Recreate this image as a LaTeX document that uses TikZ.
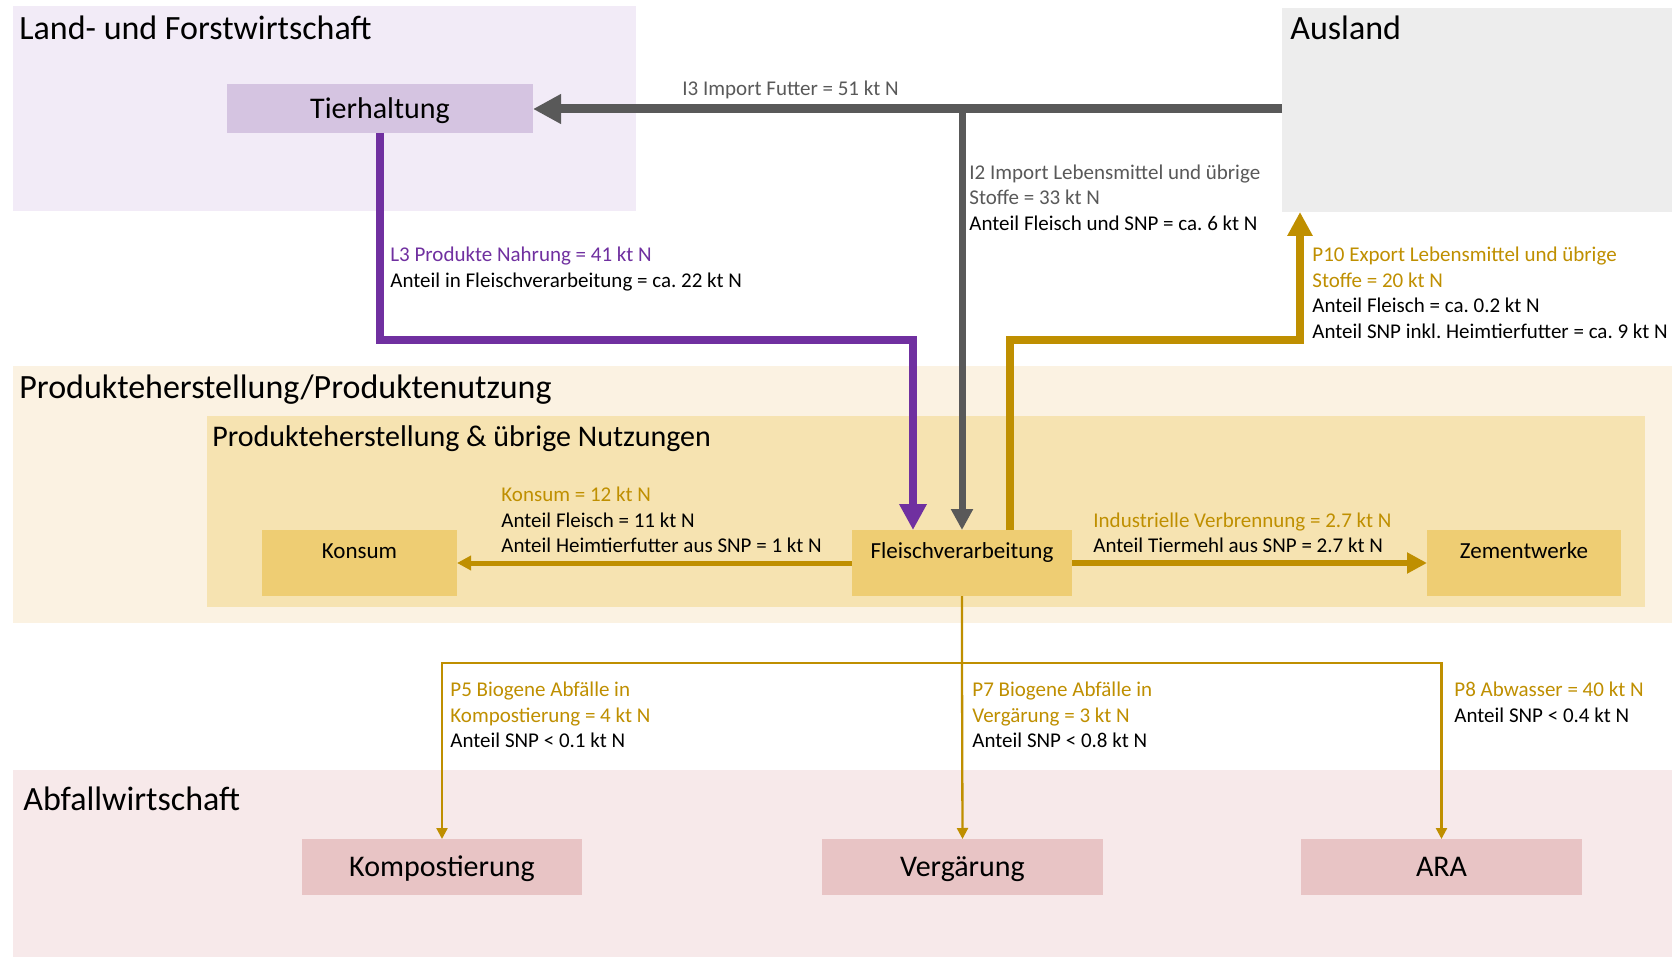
\documentclass[tikz,border=0pt]{standalone}
\usepackage{fontspec}
\setmainfont{Carlito}
\usetikzlibrary{arrows.meta}
\frenchspacing
\definecolor{lfbg}{RGB}{242,235,247}
\definecolor{ausbg}{RGB}{237,237,237}
\definecolor{ppbg}{RGB}{251,242,226}
\definecolor{pibg}{RGB}{246,227,177}
\definecolor{awbg}{RGB}{247,233,234}
\definecolor{tierbg}{RGB}{213,196,225}
\definecolor{gelbbox}{RGB}{238,205,115}
\definecolor{rosabox}{RGB}{232,196,197}
\definecolor{grau}{RGB}{89,89,89}
\definecolor{lila}{RGB}{112,48,160}
\definecolor{gold}{RGB}{191,143,0}
\begin{document}
\begin{tikzpicture}[x=0.5pt,y=-0.5pt,
 region/.style={anchor=north west, inner sep=0pt, outer sep=0pt, draw=none},
 titletext/.style={anchor=base west, inner sep=0pt, font=\fontsize{17}{20}\selectfont},
 subtitletext/.style={anchor=base west, inner sep=0pt, font=\fontsize{15}{18}\selectfont},
 lbl/.style={anchor=base west, inner sep=0pt, font=\fontsize{10.5}{12.8}\selectfont},
 bigbox/.style={inner sep=0pt, outer sep=0pt, font=\fontsize{15}{18}\selectfont, text height=9.66pt, text depth=0pt},
 midbox/.style={inner sep=0pt, outer sep=0pt, fill=gelbbox, font=\fontsize{11.5}{14}\selectfont, text height=7.4pt, text depth=12pt, minimum height=33pt},
 wastebox/.style={bigbox, fill=rosabox, minimum height=28pt, minimum width=140.5pt},
 flowgrayA/.style={draw=grau, line width=4.5pt, -{Triangle[length=14pt,width=14pt]}},
 flowgrayB/.style={draw=grau, line width=3.5pt, -{Triangle[length=10.5pt,width=10.5pt]}},
 flowlila/.style={draw=lila, line width=4pt, -{Triangle[length=13pt,width=13pt]}},
 flowgoldA/.style={draw=gold, line width=4pt, -{Triangle[length=12pt,width=12pt]}},
 flowgoldK/.style={draw=gold, line width=2.5pt, -{Triangle[length=7pt,width=7pt]}},
 flowgoldZ/.style={draw=gold, line width=3pt, -{Triangle[length=10pt,width=10pt]}},
 flowthin/.style={draw=gold, line width=1.15pt, -{Triangle[length=5.5pt,width=5.5pt]}},
]
\useasboundingbox (0,0) rectangle (1672,957);
\fill[white] (0,0) rectangle (1672,957);
% regions
\node[region, fill=lfbg, minimum width=311.5pt, minimum height=102.5pt] (lf) at (13,6) {};
\node[region, fill=ausbg, minimum width=195pt, minimum height=102pt] (aus) at (1282,8) {};
\node[region, fill=ppbg, minimum width=829.5pt, minimum height=128.5pt] (pp) at (13,366) {};
\node[region, fill=pibg, minimum width=719pt, minimum height=95.5pt] (pi) at (207,416) {};
\node[region, fill=awbg, minimum width=829.5pt, minimum height=93.5pt] (aw) at (13,770) {};
% region titles
\node[titletext] (tlf) at (19,39.5) {Land- und Forstwirtschaft};
\node[titletext] (taus) at (1290,40) {Ausland};
\node[titletext] (tpp) at (19,399) {Produkteherstellung/Produktenutzung};
\node[subtitletext] (tpi) at (212,446) {Produkteherstellung \& übrige Nutzungen};
\node[titletext] (taw) at (23,810) {Abfallwirtschaft};
% boxes
\node[bigbox, fill=tierbg, minimum width=153pt, minimum height=24.5pt] (tier) at (380,108.5) {Tierhaltung};
\node[midbox, minimum width=97.5pt] (kons) at (359.5,563) {Konsum};
\node[midbox, minimum width=110pt] (fl) at (962,563) {Fleischverarbeitung};
\node[midbox, minimum width=97pt] (zem) at (1524,563) {Zementwerke};
\node[wastebox, minimum width=140pt] (kom) at (442,867) {Kompostierung};
\node[wastebox] (ver) at (962.5,867) {Vergärung};
\node[wastebox] (ara) at (1441.5,867) {ARA};
% connectors
\draw[flowgrayA] (aus.west |- 0,109) -- (tier.east |- 0,109);
\draw[flowgrayB] (fl.north |- 0,109) -- (fl.north);
\coordinate (l3m) at (913,340);
\draw[flowlila] (tier.south) |- (l3m) -- (l3m |- fl.north);
\coordinate (p10s) at (1010,530);
\coordinate (p10m) at (1300,340);
\draw[flowgoldA] (p10s) |- (p10m) -- (p10m |- aus.south);
\draw[flowgoldK] (fl.west) -- (kons.east);
\draw[flowgoldZ] (fl.east) -- (zem.west);
\coordinate (jn) at (962,663);
\draw[flowthin] (fl.south) -- (jn) -- (ver.north);
\draw[flowthin] (jn) -| (kom.north);
\draw[flowthin] (jn) -| (ara.north);
% labels
\node[lbl, text=grau] (i3a) at (682,96) {I3 Import Futter = 51 kt N};
\node[lbl, text=grau] (i2a) at (969,179.5) {I2 Import Lebensmittel und übrige};
\node[lbl, text=grau] (i2b) at (969,205) {Stoffe = 33 kt N};
\node[lbl] (i2c) at (969,230.7) {Anteil Fleisch und SNP = ca. 6 kt N};
\node[lbl, text=lila] (l3a) at (390,261.6) {L3 Produkte Nahrung = 41 kt N};
\node[lbl] (l3b) at (390,287.2) {Anteil in Fleischverarbeitung = ca. 22 kt N};
\node[lbl, text=gold] (p10a) at (1312,261.6) {P10 Export Lebensmittel und übrige};
\node[lbl, text=gold] (p10b) at (1312,287.2) {Stoffe = 20 kt N};
\node[lbl] (p10c) at (1312,312.8) {Anteil Fleisch = ca. 0.2 kt N};
\node[lbl] (p10d) at (1312,338.4) {Anteil SNP inkl. Heimtierfutter = ca. 9 kt N};
\node[lbl, text=gold] (ka) at (501,501.6) {Konsum = 12 kt N};
\node[lbl] (kb) at (501,527.2) {Anteil Fleisch = 11 kt N};
\node[lbl] (kc) at (501,552.8) {Anteil Heimtierfutter aus SNP = 1 kt N};
\node[lbl, text=gold] (iva) at (1093,527.2) {Industrielle Verbrennung = 2.7 kt N};
\node[lbl] (ivb) at (1093,552.8) {Anteil Tiermehl aus SNP = 2.7 kt N};
\node[lbl, text=gold] (p5a) at (450,696.7) {P5 Biogene Abfälle in};
\node[lbl, text=gold] (p5b) at (450,722.3) {Kompostierung = 4 kt N};
\node[lbl] (p5c) at (450,747) {Anteil SNP < 0.1 kt N};
\node[lbl, text=gold] (p7a) at (972,696.7) {P7 Biogene Abfälle in};
\node[lbl, text=gold] (p7b) at (972,722.3) {Vergärung = 3 kt N};
\node[lbl] (p7c) at (972,747) {Anteil SNP < 0.8 kt N};
\node[lbl, text=gold] (p8a) at (1454,696.7) {P8 Abwasser = 40 kt N};
\node[lbl] (p8b) at (1454,722.3) {Anteil SNP < 0.4 kt N};
\end{tikzpicture}
\end{document}
